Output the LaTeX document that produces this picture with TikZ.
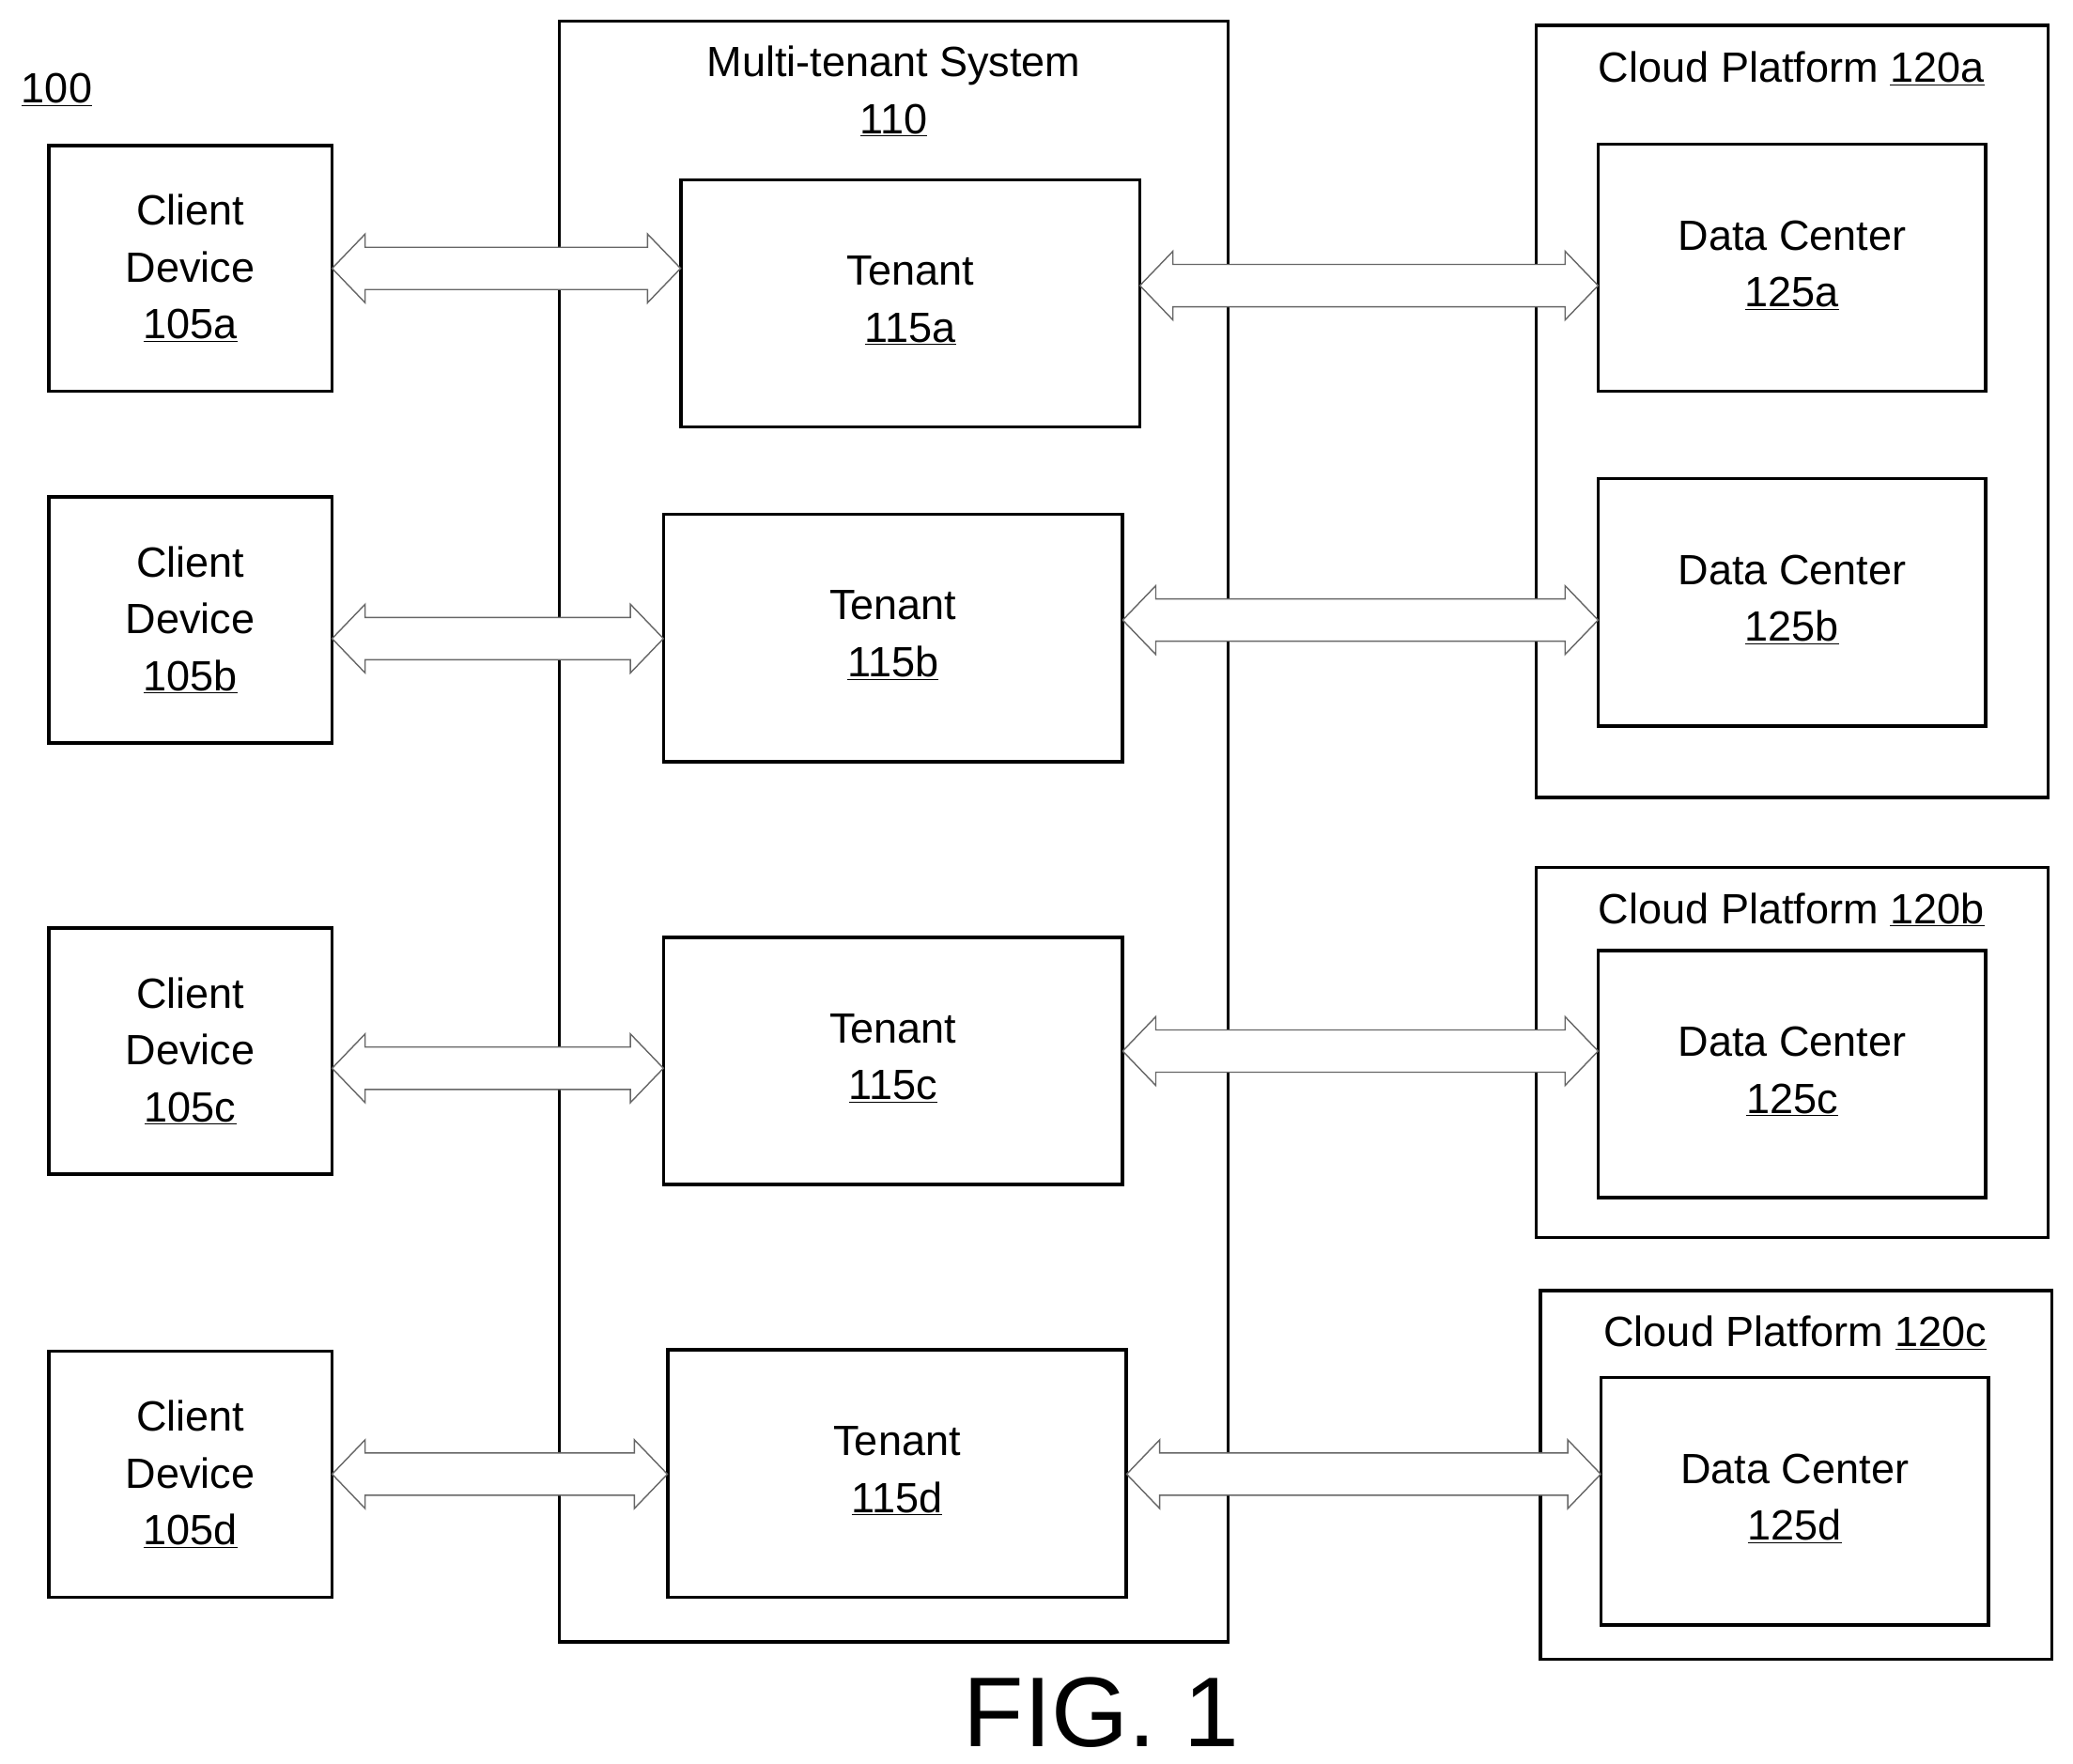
\documentclass[tikz,border=0pt]{standalone}
\usepackage{fontspec}
\setmainfont{Liberation Sans}
\usetikzlibrary{calc}
\begin{document}
\begin{tikzpicture}[x=1pt,y=-1pt,
  box/.style={draw,line width=2.5pt},
  lbl/.style={font=\fontsize{32}{43}\selectfont,align=center},
  fat/.style={draw=gray!80!black,fill=white,line width=1pt}]
\useasboundingbox (0,0) rectangle (1568,1334);
\newcommand\dbl[3]{\draw[fat] let \p1=(#1.east), \p2=(#2.west) in
 (\x1,-#3pt) -- (\x1+25pt,-#3pt+26pt) -- (\x1+25pt,-#3pt+16pt) -- (\x2-25pt,-#3pt+16pt) -- (\x2-25pt,-#3pt+26pt) -- (\x2,-#3pt)
 -- (\x2-25pt,-#3pt-26pt) -- (\x2-25pt,-#3pt-16pt) -- (\x1+25pt,-#3pt-16pt) -- (\x1+25pt,-#3pt-26pt) -- cycle;}
\node[lbl] (l100) at (43,68) {\underline{100}};
% multi-tenant
\draw[box] (423,16) rectangle (929,1242);
\node[lbl] (mt) at (676,69) {Multi-tenant System\\\underline{110}};
% clouds
\draw[box] (1162,19) rectangle (1549,603);
\node[lbl] (cpa) at (1355,52) {Cloud Platform \underline{120a}};
\draw[box] (1162,656) rectangle (1549,936);
\node[lbl] (cpb) at (1355,688) {Cloud Platform \underline{120b}};
\draw[box] (1165,976) rectangle (1552,1255);
\node[lbl] (cpc) at (1358,1008) {Cloud Platform \underline{120c}};
% clients
\foreach \n/\y in {a/110,b/376,c/702,d/1022}{
  \draw[box] (37,\y) rectangle (251,\y+186);
  \node[lbl,minimum width=214pt,minimum height=186pt] (c\n) at (144,\y+93) {Client\\Device\\\underline{105\n}};
}
% tenants
\foreach \n/\x/\y in {a/515/136,b/502/389,c/502/709,d/505/1021}{
  \draw[box] (\x,\y) rectangle (\x+347,\y+187);
  \node[lbl,minimum width=347pt,minimum height=187pt] (t\n) at (\x+173.5,\y+93.5-2) {Tenant\\\underline{115\n}};
}
% data centers
\foreach \n/\x/\y in {a/1209/109,b/1209/362,c/1209/719,d/1211/1042}{
  \draw[box] (\x,\y) rectangle (\x+293,\y+187);
  \node[lbl,minimum width=293pt,minimum height=187pt] (d\n) at (\x+146.5,\y+93.5-2) {Data Center\\\underline{125\n}};
}
\dbl{ca}{ta}{203}
\dbl{cb}{tb}{483}
\dbl{cc}{tc}{808}
\dbl{cd}{td}{1115}
\dbl{ta}{da}{216}
\dbl{tb}{db}{469}
\dbl{tc}{dc}{795}
\dbl{td}{dd}{1115}
\node[font=\fontsize{75}{80}\selectfont] (fig) at (833,1295) {FIG. 1};
\end{tikzpicture}
\end{document}
